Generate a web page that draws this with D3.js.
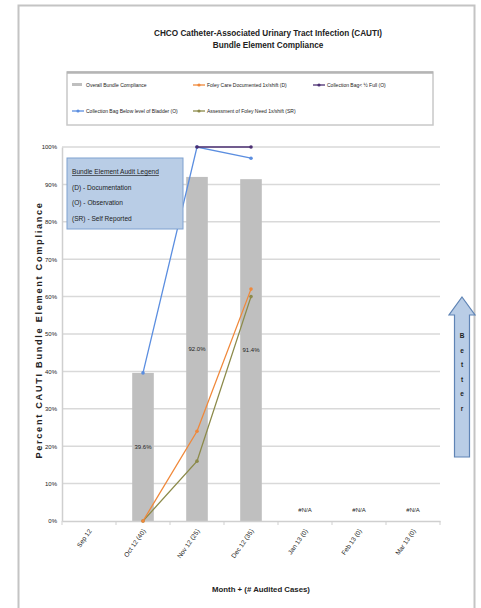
<!DOCTYPE html>
<html>
<head>
<meta charset="utf-8">
<script src="https://cdn.jsdelivr.net/npm/d3@7/dist/d3.min.js"></script>
<style>
  html, body { margin: 0; padding: 0; background: #fff; }
  svg { display: block; }
  text { font-family: "Liberation Sans Narrow", "Liberation Sans", Arial, sans-serif; fill: #222; }
</style>
</head>
<body>
<svg id="chart" width="481" height="608"></svg>
<script>
// Months with number of audited cases
const months = ["Sep 12", "Oct 12 (40)", "Nov 12 (25)", "Dec 12 (35)", "Jan 13 (0)", "Feb 13 (0)", "Mar 13 (0)"];
// Overall bundle compliance (bars); null = N/A
const overall = [null, 0.396, 0.920, 0.914, null, null, null];
const overallLabels = ["", "39.6%", "92.0%", "91.4%", "#N/A", "#N/A", "#N/A"];
// Element series (null = no data)
const foleyCare = [null, 0.0, 0.24, 0.62, null, null, null];
const bagHalfFull = [null, null, 1.0, 1.0, null, null, null];
const bagBelowBladder = [null, 0.396, 1.0, 0.97, null, null, null];
const foleyNeed = [null, 0.0, 0.16, 0.60, null, null, null];
const yTicks = [0, 0.1, 0.2, 0.3, 0.4, 0.5, 0.6, 0.7, 0.8, 0.9, 1.0];

const svg = d3.select("#chart");

// Outer chart frame
svg.append("rect").attr("x", 18.5).attr("y", 5.5).attr("width", 456).attr("height", 610)
  .attr("fill", "#fff").attr("stroke", "#c4c4c4").attr("stroke-width", 2);

// Title
const title = svg.append("text").attr("x", 268).attr("y", 36)
  .attr("text-anchor", "middle").attr("font-size", 8.2).attr("font-weight", "bold");
title.append("tspan").attr("x", 268).text("CHCO Catheter-Associated Urinary Tract Infection (CAUTI)");
title.append("tspan").attr("x", 268).attr("dy", 11.5).text("Bundle Element Compliance");

// Scales
const x = d3.scaleBand().domain(months).range([62, 440]).paddingInner(0.6).paddingOuter(0.3);
const step = x.step();
const cx = d => x(d) + x.bandwidth() / 2;
const y = d3.scaleLinear().domain([0, 1]).range([521, 147]);

// Gridlines
svg.append("g").selectAll("line").data(yTicks.slice(1)).join("line")
  .attr("x1", 62).attr("x2", 440).attr("y1", d => y(d)).attr("y2", d => y(d))
  .attr("stroke", "#d9d9d9").attr("stroke-width", 1.5);

// Y axis
const yAxis = svg.append("g").attr("transform", "translate(62,0)")
  .call(d3.axisLeft(y).tickValues(yTicks).tickFormat(d3.format(".0%")).tickSize(0).tickPadding(5));
yAxis.select(".domain").attr("stroke", "#cfcfcf").attr("stroke-width", 1.5);
yAxis.selectAll("text").attr("font-size", 6).attr("fill", "#333")
  .style("font-family", "'Liberation Sans Narrow', 'Liberation Sans', Arial, sans-serif");

// Bars
svg.append("g").selectAll("rect").data(months.map((m, i) => ({ m, v: overall[i] })).filter(d => d.v != null))
  .join("rect")
  .attr("x", d => x(d.m)).attr("width", x.bandwidth())
  .attr("y", d => y(d.v)).attr("height", d => y(0) - y(d.v))
  .attr("fill", "#bfbfbf");

// X axis
const xAxis = svg.append("g").attr("transform", "translate(0,521)")
  .call(d3.axisBottom(x).tickSize(0).tickPadding(0).tickFormat(""));
xAxis.select(".domain").attr("stroke", "#cfcfcf").attr("stroke-width", 1.5);
// Category boundary ticks
svg.append("g").selectAll("line").data(d3.range(months.length + 1)).join("line")
  .attr("x1", i => 62 + i * step).attr("x2", i => 62 + i * step)
  .attr("y1", 521).attr("y2", 525).attr("stroke", "#cfcfcf").attr("stroke-width", 1);
// Rotated category labels
svg.append("g").selectAll("text").data(months).join("text")
  .attr("transform", d => `translate(${cx(d) + 3},531) rotate(-55)`)
  .attr("text-anchor", "end").attr("font-size", 6.5).attr("fill", "#333").text(d => d);

// Bar value labels
svg.append("g").selectAll("text")
  .data(months.map((m, i) => ({ m, v: overall[i], t: overallLabels[i] })).filter(d => d.t))
  .join("text")
  .attr("x", d => cx(d.m))
  .attr("y", d => d.v != null ? (y(d.v) + y(0)) / 2 + 2 : y(0) - 9)
  .attr("text-anchor", "middle").attr("font-size", 6).attr("fill", "#333").text(d => d.t);

// Lines
const series = [
  { name: "Collection Bag Below level of Bladder (O)", values: bagBelowBladder, color: "#5b8ee0" },
  { name: "Assessment of Foley Need 1x/shift (SR)", values: foleyNeed, color: "#8c8a4a" },
  { name: "Foley Care Documented 1x/shift (D)", values: foleyCare, color: "#f0883a" },
  { name: "Collection Bag< ½ Full (O)", values: bagHalfFull, color: "#4b2f72" }
];
const line = d3.line().defined(d => d.v != null).x(d => cx(d.m)).y(d => y(d.v));
series.forEach(s => {
  const pts = months.map((m, i) => ({ m, v: s.values[i] }));
  svg.append("path").datum(pts).attr("d", line)
    .attr("fill", "none").attr("stroke", s.color).attr("stroke-width", 1.3);
  svg.append("g").selectAll("circle").data(pts.filter(d => d.v != null)).join("circle")
    .attr("cx", d => cx(d.m)).attr("cy", d => y(d.v)).attr("r", 1.8).attr("fill", s.color);
});

// Series legend
const lg = svg.append("g");
lg.append("rect").attr("x", 67).attr("y", 72).attr("width", 366).attr("height", 53)
  .attr("fill", "#fff").attr("stroke", "#c8c8c8").attr("stroke-width", 1.5);
lg.append("line").attr("x1", 67).attr("x2", 433).attr("y1", 72.5).attr("y2", 72.5)
  .attr("stroke", "#b5b5b5").attr("stroke-width", 2.5);
const legendItems = [
  { label: "Overall Bundle Compliance", type: "bar", color: "#bfbfbf", x: 72, y: 85 },
  { label: "Foley Care Documented 1x/shift (D)", type: "line", color: "#f0883a", x: 193, y: 85 },
  { label: "Collection Bag< ½ Full (O)", type: "line", color: "#4b2f72", x: 313, y: 85 },
  { label: "Collection Bag Below level of Bladder (O)", type: "line", color: "#5b8ee0", x: 72, y: 111 },
  { label: "Assessment of Foley Need 1x/shift (SR)", type: "line", color: "#8c8a4a", x: 193, y: 111 }
];
legendItems.forEach(it => {
  if (it.type === "bar") {
    lg.append("rect").attr("x", it.x).attr("y", it.y - 2).attr("width", 10).attr("height", 3)
      .attr("fill", "#bfbfbf");
  } else {
    lg.append("line").attr("x1", it.x).attr("x2", it.x + 12).attr("y1", it.y).attr("y2", it.y)
      .attr("stroke", it.color).attr("stroke-width", 1.3);
    lg.append("circle").attr("cx", it.x + 6).attr("cy", it.y).attr("r", 1.6).attr("fill", it.color);
  }
  lg.append("text").attr("x", it.x + 14).attr("y", it.y + 2).attr("font-size", 5)
    .attr("fill", "#333").text(it.label);
});

// Audit legend box
const ab = svg.append("g");
ab.append("rect").attr("x", 67).attr("y", 158).attr("width", 116).attr("height", 71)
  .attr("fill", "#b9cde6").attr("stroke", "#7fa1d0").attr("stroke-width", 1);
const auditLines = ["Bundle Element Audit Legend", "(D) - Documentation", "(O) - Observation", "(SR) - Self Reported"];
ab.selectAll("text").data(auditLines).join("text")
  .attr("x", 72).attr("y", (d, i) => 174 + i * 15.5).attr("font-size", 6.6)
  .attr("fill", "#2a2a2a")
  .attr("text-decoration", (d, i) => i === 0 ? "underline" : null)
  .text(d => d);

// "Better" arrow
const arrowPath = "M462,297 L475,315 L469.5,315 L469.5,457 L454.5,457 L454.5,315 L449,315 Z";
svg.append("path").attr("d", arrowPath).attr("fill", "#b9cde6").attr("stroke", "#5f84b5").attr("stroke-width", 1.2);
svg.append("g").selectAll("text").data("Better".split("")).join("text")
  .attr("x", 462).attr("y", (d, i) => 338 + i * 14.5).attr("text-anchor", "middle")
  .attr("font-size", 6.5).attr("font-weight", "bold").attr("fill", "#333").text(d => d);

// Axis titles
svg.append("text").attr("transform", "translate(42,330) rotate(-90)")
  .attr("text-anchor", "middle").attr("font-size", 9.2).attr("font-weight", "bold")
  .style("font-family", "'Liberation Sans', Arial, sans-serif").attr("letter-spacing", 1.7)
  .text("Percent CAUTI Bundle Element Compliance");
svg.append("text").attr("x", 261).attr("y", 592).attr("text-anchor", "middle")
  .attr("font-size", 7.8).attr("font-weight", "bold")
  .text("Month + (# Audited Cases)");
</script>
</body>
</html>
